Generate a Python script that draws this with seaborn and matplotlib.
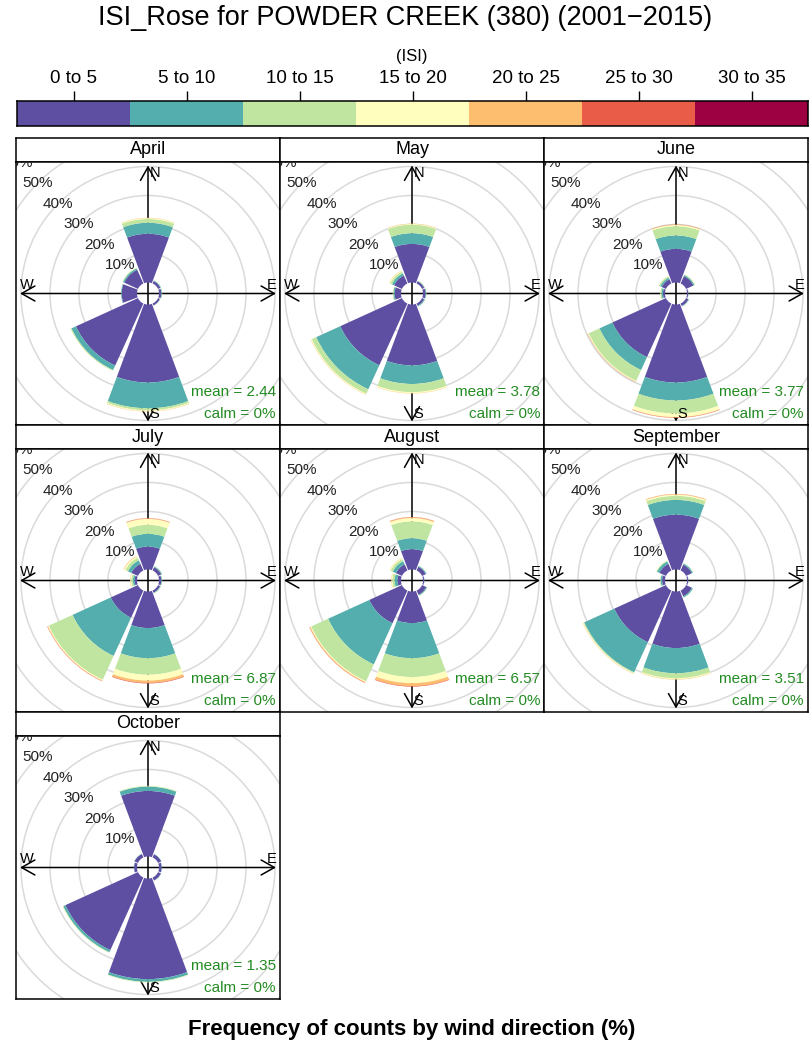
import numpy as np
import matplotlib
matplotlib.use("Agg")
import matplotlib.pyplot as plt
from matplotlib.colors import ListedColormap
from matplotlib.patches import Wedge, Circle
import seaborn as sns

# ---- data (percent of counts per ISI class, by wind direction) ----
months = ["April", "May", "June", "July", "August", "September", "October"]
directions = [0, 45, 90, 135, 180, 225, 270, 315]   # N NE E SE S SW W NW
isi_bins = ["0 to 5", "5 to 10", "10 to 15", "15 to 20", "20 to 25", "25 to 30", "30 to 35"]
means = [2.44, 3.78, 3.77, 6.87, 6.57, 3.51, 1.35]
calms = [0, 0, 0, 0, 0, 0, 0]

april = [[16.8, 3.8, 1.3, 0.3, 0.1, 0, 0],
         [0.9, 0.2, 0.1, 0, 0, 0, 0],
         [0.8, 0.2, 0.1, 0, 0, 0, 0],
         [0.7, 0.1, 0.05, 0, 0, 0, 0],
         [26.9, 8.9, 0.7, 0.3, 0.1, 0, 0],
         [23.5, 1.7, 0.3, 0.1, 0, 0, 0],
         [5.3, 0.2, 0.05, 0, 0, 0, 0],
         [5.2, 0.5, 0.2, 0.1, 0, 0, 0]]
may = [[13.3, 3.7, 2.9, 0.3, 0.1, 0, 0],
       [0.8, 0.2, 0.1, 0.05, 0, 0, 0],
       [0.9, 0.2, 0.1, 0, 0, 0, 0],
       [0.8, 0.3, 0.1, 0, 0, 0, 0],
       [21.0, 6.4, 2.8, 0.4, 0.1, 0, 0],
       [23.4, 9.1, 1.7, 0.3, 0.1, 0, 0],
       [2.2, 0.4, 0.2, 0.05, 0, 0, 0],
       [3.0, 0.8, 0.7, 0.3, 0.1, 0, 0]]
june = [[11.6, 4.6, 3.2, 0.4, 0.15, 0.05, 0],
        [2.8, 0.4, 0.2, 0.1, 0, 0, 0],
        [0.4, 0.1, 0, 0, 0, 0, 0],
        [0.9, 0.2, 0.05, 0, 0, 0, 0],
        [26.9, 6.2, 4.5, 1.2, 0.2, 0.1, 0],
        [20.3, 4.9, 4.1, 0.3, 0.1, 0.05, 0],
        [0.7, 0.5, 0.4, 0.1, 0, 0, 0],
        [1.6, 0.6, 0.5, 0.1, 0, 0, 0]]
july = [[7.9, 4.4, 3.1, 2.0, 0.2, 0.1, 0],
        [1.2, 0.3, 0.1, 0, 0, 0, 0],
        [0.8, 0.2, 0.1, 0, 0, 0, 0],
        [0.8, 0.2, 0.1, 0, 0, 0, 0],
        [12.6, 10.4, 5.7, 2.0, 0.8, 0.2, 0],
        [10.3, 14.5, 9.0, 0.3, 0.2, 0.1, 0],
        [0.8, 0.6, 0.6, 0.3, 0.1, 0, 0],
        [2.5, 1.3, 1.0, 0.5, 0.2, 0, 0]]
august = [[7.0, 3.8, 5.8, 1.1, 0.3, 0.1, 0],
          [1.4, 0.3, 0.05, 0, 0, 0, 0],
          [0.4, 0.1, 0, 0, 0, 0, 0],
          [1.6, 0.3, 0.1, 0, 0, 0, 0],
          [10.9, 12.1, 6.5, 2.1, 1.0, 0.2, 0],
          [12.4, 15.6, 6.4, 0.3, 0.3, 0.1, 0],
          [1.2, 1.0, 0.8, 0.3, 0.1, 0, 0],
          [2.3, 1.2, 0.8, 0.3, 0.1, 0, 0]]
september = [[18.9, 5.1, 1.4, 0.4, 0.2, 0.05, 0],
             [2.2, 0.4, 0.1, 0, 0, 0, 0],
             [0.4, 0.1, 0, 0, 0, 0, 0],
             [2.2, 0.4, 0.1, 0, 0, 0, 0],
             [19.5, 8.7, 1.7, 0.4, 0.1, 0, 0],
             [19.6, 11.4, 0.3, 0.2, 0.1, 0, 0],
             [1.0, 0.5, 0.2, 0, 0, 0, 0],
             [2.5, 0.9, 0.3, 0.1, 0, 0, 0]]
october = [[22.6, 1.5, 0.2, 0.05, 0, 0, 0],
           [1.2, 0.1, 0, 0, 0, 0, 0],
           [0.9, 0.1, 0, 0, 0, 0, 0],
           [1.1, 0.1, 0, 0, 0, 0, 0],
           [34.7, 0.9, 0.2, 0.05, 0, 0, 0],
           [27.5, 0.8, 0.2, 0.05, 0, 0, 0],
           [1.0, 0.1, 0, 0, 0, 0, 0],
           [1.3, 0.1, 0, 0, 0, 0, 0]]
freqs = [april, may, june, july, august, september, october]
ring_levels = [10, 20, 30, 40, 50, 60]

# ---- style ----
sns.set_theme(style="white")
plt.rcParams['font.family'] = ['Liberation Sans', 'DejaVu Sans']
plt.rcParams['text.color'] = 'black'
plt.rcParams['xtick.color'] = 'black'
cols = sns.color_palette(plt.get_cmap("Spectral_r")(np.linspace(0, 1, len(isi_bins))))

W, H = 811, 1046
fig = plt.figure(figsize=(W / 100, H / 100), dpi=100)


def px_axes(x, y, w, h):
    """axes from a pixel box given by its top-left corner"""
    return fig.add_axes([x / W, 1 - (y + h) / H, w / W, h / H])


def frame(ax, lw=1.1):
    for s in ax.spines.values():
        s.set_visible(True)
        s.set_color("black")
        s.set_linewidth(lw)


fig.text(0.5, 1 - 18 / H, "ISI_Rose for POWDER CREEK (380) (2001\u22122015)",
         ha="center", va="center", fontsize=19.5)
fig.text(412 / W, 1 - 57 / H, "(ISI)", ha="center", va="center", fontsize=12)

# colour key drawn as a one-row heatmap
cax = px_axes(17, 101, 791, 25)
sns.heatmap(np.arange(len(isi_bins))[None, :], cmap=ListedColormap(cols), cbar=False,
            ax=cax, xticklabels=isi_bins, yticklabels=False)
cax.xaxis.tick_top()
cax.tick_params(axis="x", top=True, bottom=False, length=7, width=1, color="black",
                direction="out", labelsize=13.5, pad=3, rotation=0, labelcolor="black")
cax.set_xlabel("")
frame(cax)

off = 3.8      # radius of the empty centre, in %
scale = 2.9    # pixels per %
half = 20.5    # half width of a sector, degrees
arrow_len = 128 / scale

for i, (month, data) in enumerate(zip(months, freqs)):
    r, c = divmod(i, 3)
    x0, y0 = 16 + c * 264, 138 + r * 287

    sax = px_axes(x0, y0, 264, 24)
    sax.set_xticks([])
    sax.set_yticks([])
    frame(sax)
    sax.text(0.5, 0.5, month, ha="center", va="center", fontsize=13, transform=sax.transAxes)

    ax = px_axes(x0, y0 + 24, 264, 263)
    ax.set_xlim(-132 / scale, 132 / scale)
    ax.set_ylim(-131.5 / scale, 131.5 / scale)
    ax.set_xticks([])
    ax.set_yticks([])
    frame(ax)

    for lev in ring_levels:
        rad = off + lev
        ax.add_patch(Circle((0, 0), rad, fill=False, ec="#dadada", lw=1.1, zorder=1))
        ax.text(rad * np.cos(np.radians(135)), rad * np.sin(np.radians(135)), f"{lev}%",
                ha="center", va="center", fontsize=11, color="#222222", clip_on=True, zorder=6)

    arrow = dict(arrowstyle="<->,head_length=0.8,head_width=0.45", lw=1.1, color="black",
                 shrinkA=0, shrinkB=0)
    ax.annotate("", xy=(0, arrow_len), xytext=(0, -arrow_len), arrowprops=arrow, zorder=2)
    ax.annotate("", xy=(arrow_len, 0), xytext=(-arrow_len, 0), arrowprops=arrow, zorder=2)
    ax.text(0.6, arrow_len - 0.3, "N", ha="left", va="top", fontsize=10.5, zorder=6)
    ax.text(0.6, -arrow_len + 0.3, "S", ha="left", va="bottom", fontsize=10.5, zorder=6)
    ax.text(-arrow_len, 0.5, "W", ha="left", va="bottom", fontsize=10.5, zorder=6)
    ax.text(arrow_len, 0.5, "E", ha="right", va="bottom", fontsize=10.5, zorder=6)

    for d, row in zip(directions, data):
        edges = off + np.concatenate([[0], np.cumsum(row)])
        for b, val in enumerate(row):
            if val <= 0:
                continue
            ax.add_patch(Wedge((0, 0), edges[b + 1], 90 - d - half, 90 - d + half,
                               width=val, fc=cols[b], ec="none", zorder=3))

    ax.text(1 - 4 / 264, 33 / 263, f"mean = {means[i]:.2f}", transform=ax.transAxes,
            ha="right", va="center", fontsize=11, color="forestgreen", zorder=7)
    ax.text(1 - 4 / 264, 11 / 263, f"calm = {calms[i]}%", transform=ax.transAxes,
            ha="right", va="center", fontsize=11, color="forestgreen", zorder=7)

fig.text(412 / W, 1 - 1030 / H, "Frequency of counts by wind direction (%)",
         ha="center", va="center", fontsize=16, fontweight="bold")

fig.savefig("out.png", dpi=100)
